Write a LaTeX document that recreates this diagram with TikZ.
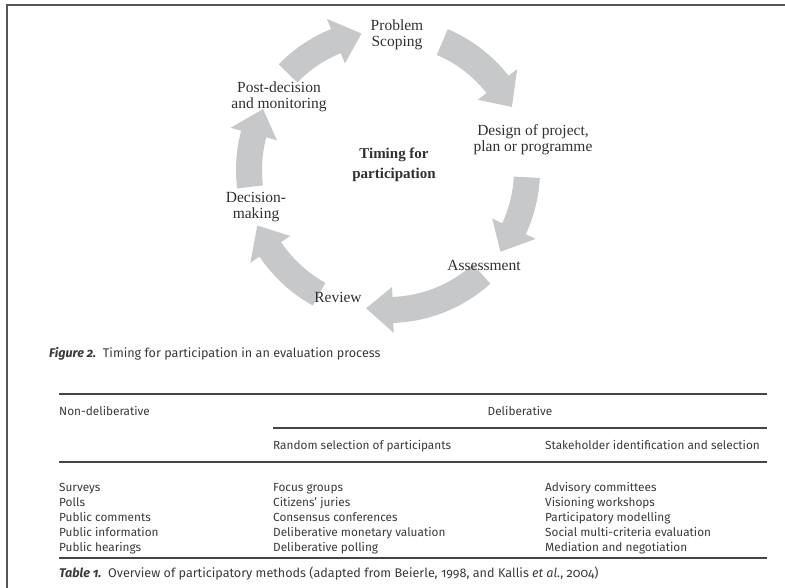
\documentclass[tikz,border=0pt]{standalone}
\usepackage{fontspec}
\setmainfont{Liberation Serif}
\newfontfamily\tabfont[Numbers=OldStyle]{Fira Sans}
\usetikzlibrary{calc}

\definecolor{arrowgray}{HTML}{C6C8C9}
\definecolor{labelgray}{HTML}{303030}
\definecolor{tabtext}{HTML}{3A3A3A}
\definecolor{rulegray}{HTML}{454545}
\definecolor{framegray}{HTML}{555555}

% Curved block arrow around the cycle centre:
% #1 tail angle, #2 head base angle, #3 tip angle, #4 radius, #5 half band, #6 half head
\newcommand\cyclearrow[6]{%
  \pgfmathsetmacro\rout{#4+#5}\pgfmathsetmacro\rin{#4-#5}%
  \pgfmathsetmacro\hout{#4+#6}\pgfmathsetmacro\hin{#4-#6}%
  \fill[arrowgray] (#1:\rout) arc[start angle=#1, end angle=#2, radius=\rout pt]
    -- (#2:\hout) -- (#3:#4) -- (#2:\hin) -- (#2:\rin)
    arc[start angle=#2, end angle=#1, radius=\rin pt] -- cycle;}

\tikzset{
  stage/.style={align=center, text=labelgray, font=\fontsize{15.5}{16}\selectfont},
  centre/.style={align=center, text=labelgray, font=\fontsize{15}{20}\selectfont\bfseries},
  cell/.style={anchor=base west, inner sep=0pt, text=tabtext, font=\tabfont\fontsize{11.8}{13}\selectfont},
  hdr/.style={cell},
  caption/.style={cell, font=\tabfont\fontsize{12.6}{14}\selectfont},
  bigrule/.style={draw=rulegray, line width=1.6pt},
  smallrule/.style={draw=rulegray, line width=1.2pt},
}

\begin{document}
\begin{tikzpicture}[x=1pt,y=1pt]
\useasboundingbox (0,0) rectangle (785,-588);

% page frame
\draw[framegray, line width=1.4pt] (7,-588) -- (7,-5) -- (785,-5);

% cycle of block arrows
\coordinate (cyc) at (388,-170);
\begin{scope}[shift={(cyc)}]
  \cyclearrow{136}{112}{101}{139}{13}{24}
  \cyclearrow{67}{38}{27}{139}{14}{25}
  \cyclearrow{-3}{-25}{-36}{139}{13}{24}
  \cyclearrow{-48}{-88}{-99}{140}{13}{23}
  \cyclearrow{-119}{-146}{-157}{142}{13}{24}
  \cyclearrow{187}{165}{154}{139}{13}{24}
\end{scope}

% stage labels
\node[stage] (scope) at (397,-35) {Problem\\Scoping};
\node[stage] (design) at (533,-140) {Design of project,\\plan or programme};
\node[stage] (assess) at (484,-265) {Assessment};
\node[stage] (review) at (338,-297) {Review};
\node[stage] (decide) at (256,-207) {Decision-\\making};
\node[stage] (post) at (279,-97) {Post-decision\\and monitoring};
\node[centre] (timing) at (394,-165) {Timing for\\participation};

% figure caption
\node[caption] (figcap) at (49,-357) {\textbf{\textit{Figure 2.}}\ \ Timing for participation in an evaluation process};

% table rules
\draw[bigrule] (59,-394) -- (767,-394);
\draw[smallrule] (273,-428) -- (767,-428);
\draw[smallrule] (59,-462) -- (767,-462);
\draw[bigrule] (59,-558) -- (767,-558);

% table header
\node[hdr] (h1) at (59,-415) {Non-deliberative};
\node[cell, anchor=base] (h2) at (520,-415) {Deliberative};
\node[hdr] (h3) at (273,-449) {Random selection of participants};
\node[hdr] (h4) at (545,-449) {Stakeholder identification and selection};

% table body
\node[cell] (a1) at (59,-491) {Surveys};
\node[cell] (a2) at (59,-506) {Polls};
\node[cell] (a3) at (59,-521) {Public comments};
\node[cell] (a4) at (59,-536) {Public information};
\node[cell] (a5) at (59,-551) {Public hearings};

\node[cell] (b1) at (273,-491) {Focus groups};
\node[cell] (b2) at (273,-506) {Citizens’ juries};
\node[cell] (b3) at (273,-521) {Consensus conferences};
\node[cell] (b4) at (273,-536) {Deliberative monetary valuation};
\node[cell] (b5) at (273,-551) {Deliberative polling};

\node[cell] (c1) at (545,-491) {Advisory committees};
\node[cell] (c2) at (545,-506) {Visioning workshops};
\node[cell] (c3) at (545,-521) {Participatory modelling};
\node[cell] (c4) at (545,-536) {Social multi-criteria evaluation};
\node[cell] (c5) at (545,-551) {Mediation and negotiation};

% table caption
\node[caption] (tabcap) at (59,-577) {\textbf{\textit{Table 1.}}\ \ Overview of participatory methods (adapted from Beierle, 1998, and Kallis \textit{et al.}, 2004)};
\end{tikzpicture}
\end{document}
